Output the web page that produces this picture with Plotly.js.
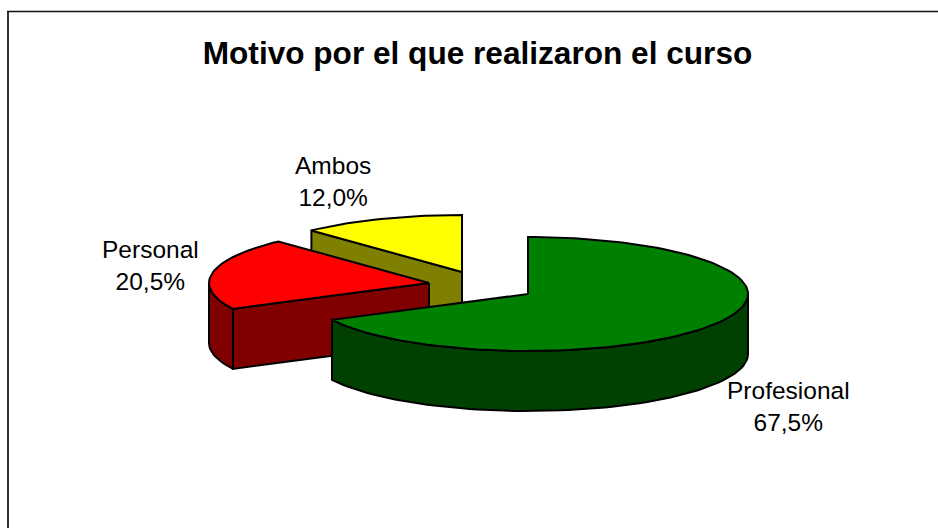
<!DOCTYPE html>
<html><head><meta charset="utf-8">
<script src="https://cdn.plot.ly/plotly-3.0.1.min.js"></script>
<style>html,body{margin:0;padding:0;background:#fff}#c{width:938px;height:528px}</style>
</head><body><div id="c"></div>
<script>
const categories = ["Profesional", "Personal", "Ambos"];
const shares = [67.5, 20.5, 12.0];
const topColors = ["#008000", "#ff0000", "#ffff00"];
const sideColors = ["#004000", "#800000", "#808000"];
const chartTitle = "Motivo por el que realizaron el curso";

// Projection of the tilted, exploded 3D pie into page pixels
const RX = 220, RY = 57, DEPTH = 60;
const centres = [[528, 294], [429, 283], [462, 272]];
const labelPos = [[788, 406], [150, 265], [333, 181]];

function pt(c, deg, down) {
  const a = deg * Math.PI / 180;
  return [c[0] + RX * Math.sin(a), c[1] - RY * Math.cos(a) + (down ? DEPTH : 0)];
}
function arc(c, a0, a1, down) {
  const out = [], n = Math.max(2, Math.ceil(Math.abs(a1 - a0) / 2));
  for (let i = 0; i <= n; i++) out.push(pt(c, a0 + (a1 - a0) * i / n, down));
  return out;
}
function poly(points, fill) {
  const p = points.concat([points[0]]);
  return {type: "scatter", mode: "lines", x: p.map(q => q[0]), y: p.map(q => q[1]),
    fill: "toself", fillcolor: fill, line: {color: "#000", width: 2, shape: "linear"},
    hoverinfo: "skip", showlegend: false};
}

// slice angles, clockwise from 12 o'clock
let cum = 0;
const slices = shares.map(v => { const s = {a0: cum * 3.6, a1: (cum + v) * 3.6}; cum += v; return s; });

const traces = [];
// painted back to front: Ambos, Personal, Profesional
[2, 1, 0].forEach(i => {
  const c = centres[i], s = slices[i];
  // cut wall visible toward the viewer
  if (i !== 0) {
    const e = pt(c, s.a0), eb = pt(c, s.a0, true);
    traces.push(poly([c, e, eb, [c[0], c[1] + DEPTH]], sideColors[i]));
  }
  // outer rim: only the part on the near half of the ellipse
  const r0 = Math.max(s.a0, 90), r1 = Math.min(s.a1, 270);
  if (r1 > r0) {
    traces.push(poly(arc(c, r0, r1, false).concat(arc(c, r1, r0, true)), sideColors[i]));
  }
  // top face
  traces.push(poly([c].concat(arc(c, s.a0, s.a1, false)), topColors[i]));
});

// chart frame (open at right and bottom as cropped in the picture)
const frameX = 8, frameY = 11.5, frameR = 938, frameB = 528;

const annotations = categories.map((n, i) => ({
  x: labelPos[i][0], y: labelPos[i][1], xref: "x", yref: "y", showarrow: false,
  text: n + "<br>" + shares[i].toFixed(1).replace(".", ",") + "%",
  align: "center", font: {family: "Liberation Sans, Arial, sans-serif", size: 24.5, color: "#000"}
}));

Plotly.newPlot("c", traces, {
  width: 938, height: 528, margin: {l: 0, r: 0, t: 0, b: 0},
  paper_bgcolor: "#fff", plot_bgcolor: "#fff", showlegend: false,
  title: {text: "<b>" + chartTitle + "</b>", x: 477.5 / 938, xanchor: "center", y: 1 - 53 / 528, yanchor: "middle",
    font: {family: "Liberation Sans, Arial, sans-serif", size: 31.6, color: "#000"}},
  xaxis: {range: [0, 938], visible: false, fixedrange: true},
  yaxis: {range: [528, 0], visible: false, fixedrange: true},
  annotations: annotations,
  shapes: [
    {type: "line", xref: "x", yref: "y", x0: frameX, x1: frameX, y0: frameY, y1: frameB, line: {color: "#333", width: 2}},
    {type: "line", xref: "x", yref: "y", x0: frameX - 1, x1: frameR, y0: frameY, y1: frameY, line: {color: "#111", width: 1.5}}
  ]
}, {staticPlot: true, displayModeBar: false});
</script></body></html>
